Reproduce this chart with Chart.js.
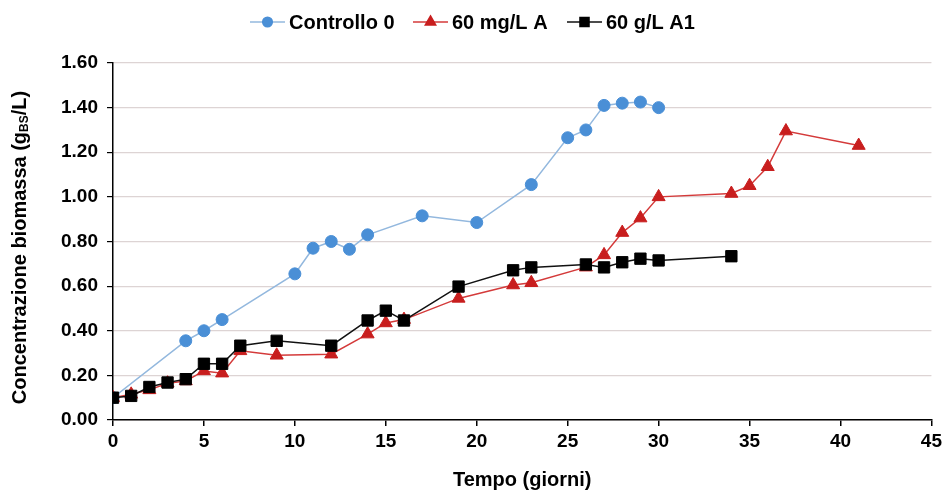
<!DOCTYPE html>
<html>
<head>
<meta charset="utf-8">
<script src="https://cdn.jsdelivr.net/npm/chart.js@4/dist/chart.umd.min.js"></script>
<style>
  body { margin: 0; background: #fff; }
  #wrap { width: 946px; height: 492px; }
</style>
</head>
<body>
<div id="wrap"><canvas id="valuesChart" width="946" height="492"></canvas></div>
<script>
// data
const giorniControllo = [0, 4, 5, 6, 10, 11, 12, 13, 14, 17, 20, 23, 25, 26, 27, 28, 29, 30]
const controllo0 = [0.10, 0.355, 0.40, 0.45, 0.655, 0.77, 0.80, 0.765, 0.83, 0.915, 0.885, 1.055, 1.265, 1.30, 1.41, 1.42, 1.425, 1.40]

const giorniA = [0, 1, 2, 3, 4, 5, 6, 7, 9, 12, 14, 15, 16, 19, 22, 23, 26, 27, 28, 29, 30, 34, 35, 36, 37, 41]
const mgLA = [0.10, 0.115, 0.135, 0.165, 0.175, 0.22, 0.21, 0.31, 0.29, 0.295, 0.385, 0.435, 0.45, 0.545, 0.605, 0.615, 0.685, 0.74, 0.84, 0.905, 1.00, 1.015, 1.05, 1.135, 1.295, 1.23]

const giorniA1 = [0, 1, 2, 3, 4, 5, 6, 7, 9, 12, 14, 15, 16, 19, 22, 23, 26, 27, 28, 29, 30, 34]
const gLA1 = [0.10, 0.108, 0.148, 0.168, 0.183, 0.252, 0.252, 0.333, 0.355, 0.333, 0.446, 0.49, 0.446, 0.598, 0.671, 0.684, 0.697, 0.684, 0.707, 0.723, 0.715, 0.734]

const seriesNames = ['Controllo 0', '60 mg/L A', '60 g/L A1']
const xTitle = 'Tempo (giorni)'
const yTitleParts = ['Concentrazione biomassa (g', 'BS', '/L)']

const FONT = '"Liberation Sans", Arial, sans-serif'

function toPoints(xs, ys) {
    return xs.map((x, i) => ({ x: x, y: ys[i] }))
}

const styles = [
    { line: '#93b8de', fill: '#4a8fd6', shape: 'circle', radius: 6 },
    { line: '#d43a3a', fill: '#c81e1e', shape: 'triangle', radius: 7.5 },
    { line: '#111111', fill: '#000000', shape: 'rect', radius: 8 }
]

// legend drawn by hand so the line goes through the marker
const legendLineX = [250, 413, 567]
const lineLegend = {
    id: 'lineLegend',
    afterDraw(chart) {
        const ctx = chart.ctx
        ctx.save()
        ctx.font = 'bold 20px ' + FONT
        ctx.textBaseline = 'middle'
        const lineLen = 35
        const y = 22
        seriesNames.forEach((n, i) => {
            const s = styles[i]
            let x = legendLineX[i]
            ctx.strokeStyle = s.line
            ctx.lineWidth = 1.5
            ctx.beginPath()
            ctx.moveTo(x, y)
            ctx.lineTo(x + lineLen, y)
            ctx.stroke()
            ctx.fillStyle = s.fill
            ctx.strokeStyle = s.fill
            Chart.helpers.drawPoint(ctx, {
                pointStyle: s.shape, radius: s.radius * 0.8, rotation: 0, borderWidth: 1
            }, x + lineLen / 2, y)
            ctx.fillStyle = '#000'
            ctx.fillText(n, x + lineLen + 4, y + 1)
        })
        ctx.restore()
    }
}

// y title with subscript BS
const yTitle = {
    id: 'yTitle',
    afterDraw(chart) {
        const ctx = chart.ctx
        const area = chart.chartArea
        ctx.save()
        ctx.translate(20, (area.top + area.bottom) / 2 + 6)
        ctx.rotate(-Math.PI / 2)
        ctx.fillStyle = '#000'
        ctx.textBaseline = 'middle'
        const big = 'bold 20px ' + FONT
        const small = 'bold 12px ' + FONT
        ctx.font = big
        const w0 = ctx.measureText(yTitleParts[0]).width
        const w2 = ctx.measureText(yTitleParts[2]).width
        ctx.font = small
        const w1 = ctx.measureText(yTitleParts[1]).width
        let x = -(w0 + w1 + w2) / 2
        ctx.font = big
        ctx.fillText(yTitleParts[0], x, 0)
        x += w0
        ctx.font = small
        ctx.fillText(yTitleParts[1], x, 5)
        x += w1
        ctx.font = big
        ctx.fillText(yTitleParts[2], x, 0)
        ctx.restore()
    }
}

const ctx = document.getElementById('valuesChart')
const allData = [toPoints(giorniControllo, controllo0), toPoints(giorniA, mgLA), toPoints(giorniA1, gLA1)]

new Chart(ctx, {
    type: 'line',
    data: {
        datasets: seriesNames.map((name, i) => ({
            label: name,
            data: allData[i],
            borderColor: styles[i].line,
            backgroundColor: styles[i].fill,
            pointBackgroundColor: styles[i].fill,
            pointBorderColor: styles[i].fill,
            pointStyle: styles[i].shape,
            pointRadius: styles[i].radius,
            pointBorderWidth: 1,
            borderWidth: 1.5,
            tension: 0,
            order: 3 - i
        }))
    },
    options: {
        responsive: false,
        animation: false,
        layout: { padding: { top: 63, right: 13, bottom: 0, left: 0 } },
        plugins: {
            legend: { display: false },
            tooltip: { enabled: false }
        },
        scales: {
            x: {
                type: 'linear',
                min: 0,
                max: 45,
                afterFit: scale => { scale.height = 72 },
                ticks: {
                    stepSize: 5,
                    color: '#000',
                    padding: 4,
                    font: { family: FONT, size: 19, weight: 'bold' }
                },
                grid: { drawOnChartArea: false, drawTicks: true, tickLength: 6, color: '#000', lineWidth: 1.5 },
                border: { color: '#000', width: 1.5 },
                title: {
                    display: true,
                    text: xTitle,
                    color: '#000',
                    padding: 0,
                    font: { family: FONT, size: 20, weight: 'bold' }
                }
            },
            y: {
                min: 0,
                max: 1.6,
                afterFit: scale => { scale.width = 113 },
                ticks: {
                    stepSize: 0.2,
                    color: '#000',
                    padding: 9,
                    font: { family: FONT, size: 19, weight: 'bold' },
                    callback: v => v.toFixed(2)
                },
                grid: { color: '#ddd4d4', lineWidth: 1.2, tickColor: '#000', tickLength: 6 },
                border: { color: '#000', width: 1.5 }
            }
        }
    },
    plugins: [lineLegend, yTitle]
})
</script>
</body>
</html>
